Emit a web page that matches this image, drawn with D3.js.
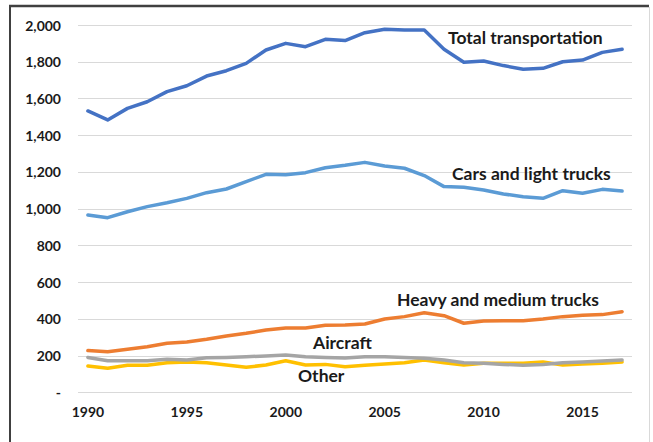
<!DOCTYPE html>
<html>
<head>
<meta charset="utf-8">
<script src="https://cdn.jsdelivr.net/npm/d3@7"></script>
<style>
  html, body { margin: 0; padding: 0; background: #fff; }
  svg { display: block; }
  text { font-family: Lato, "Open Sans", sans-serif; fill: #1a1a1a; }
</style>
</head>
<body>
<svg id="chart" width="653" height="442"></svg>
<script>
const years = d3.range(1990, 2018);
const totalTransportation = [1532,1483,1546,1582,1637,1669,1722,1751,1791,1864,1900,1882,1922,1915,1958,1977,1973,1973,1868,1797,1804,1779,1759,1764,1800,1809,1851,1868];
const carsLightTrucks = [965,951,983,1011,1032,1056,1087,1107,1147,1187,1185,1196,1223,1236,1252,1232,1220,1180,1120,1116,1102,1080,1065,1056,1098,1084,1105,1096];
const heavyMediumTrucks = [227,221,234,248,267,274,289,307,321,339,350,350,365,366,372,399,412,433,417,376,388,390,390,399,412,419,423,439];
const aircraft = [190,172,172,172,180,176,188,190,194,198,203,194,190,187,194,194,190,185,176,161,158,152,147,152,161,165,170,176];
const other = [143,131,147,147,161,165,161,149,136,149,172,149,152,139,147,154,161,176,161,149,158,158,158,165,149,154,158,165];
const yTicks = [0,200,400,600,800,1000,1200,1400,1600,1800,2000];
const xTickYears = [1990,1995,2000,2005,2010,2015];

const seriesList = [
  {name: "Other", values: other, color: "#FFC000", label: "Other", lx: 298, ly: 382},
  {name: "Aircraft", values: aircraft, color: "#A5A5A5", label: "Aircraft", lx: 313, ly: 349},
  {name: "Heavy", values: heavyMediumTrucks, color: "#ED7D31", label: "Heavy and medium trucks", lx: 397, ly: 306},
  {name: "Cars", values: carsLightTrucks, color: "#5B9BD5", label: "Cars and light trucks", lx: 452, ly: 180},
  {name: "Total", values: totalTransportation, color: "#4472C4", label: "Total transportation", lx: 448, ly: 44}
];

const svg = d3.select("#chart");

// frame
svg.append("line").attr("x1", 10).attr("x2", 10).attr("y1", 6).attr("y2", 442).attr("stroke", "#404040").attr("stroke-width", 2);
svg.append("line").attr("x1", 9).attr("x2", 649).attr("y1", 6).attr("y2", 6).attr("stroke", "#404040").attr("stroke-width", 2.5);
svg.append("line").attr("x1", 649.5).attr("x2", 649.5).attr("y1", 7).attr("y2", 442).attr("stroke", "#d9d9d9").attr("stroke-width", 1);

const x = d3.scaleBand().domain(years).range([78, 632]);
const y = d3.scaleLinear().domain([0, 2000]).range([392.3, 25]);

// gridlines
svg.append("g").selectAll("line").data(yTicks).join("line")
  .attr("x1", 78).attr("x2", 632)
  .attr("y1", d => Math.round(y(d)) + 0.5).attr("y2", d => Math.round(y(d)) + 0.5)
  .attr("stroke", "#D9D9D9").attr("stroke-width", 1);

// y axis
const yAxis = d3.axisLeft(y).tickValues(yTicks).tickSize(0).tickPadding(0)
  .tickFormat(d => d === 0 ? "-" : d3.format(",")(d));
const gy = svg.append("g").attr("transform", "translate(61,0)").call(yAxis);
gy.select(".domain").remove();
gy.selectAll("text").attr("font-size", 14).attr("font-weight", "bold").attr("fill", "#1a1a1a")
  .style("font-family", "Lato, sans-serif").attr("dy", "0.36em");

// x axis
const xAxis = d3.axisBottom(x).tickValues(xTickYears).tickSize(0).tickPadding(0);
const gx = svg.append("g").attr("transform", "translate(0,406)").call(xAxis);
gx.select(".domain").remove();
gx.selectAll("text").attr("font-size", 14).attr("font-weight", "bold").attr("fill", "#1a1a1a")
  .style("font-family", "Lato, sans-serif").attr("dy", "0.78em");

// lines
const line = d3.line()
  .x((d, i) => x(years[i]) + x.bandwidth() / 2)
  .y(d => y(d));

svg.append("g").selectAll("path").data(seriesList).join("path")
  .attr("d", s => line(s.values))
  .attr("fill", "none")
  .attr("stroke", s => s.color)
  .attr("stroke-width", 3.5)
  .attr("stroke-linejoin", "round")
  .attr("stroke-linecap", "round");

// labels
svg.append("g").selectAll("text").data(seriesList).join("text")
  .attr("x", s => s.lx).attr("y", s => s.ly)
  .attr("font-size", 17.5).attr("font-weight", "bold")
  .text(s => s.label);
</script>
</body>
</html>
